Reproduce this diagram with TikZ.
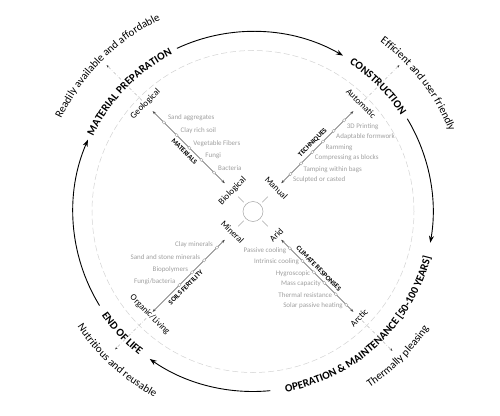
\documentclass[tikz,border=0pt]{standalone}
\usepackage{fontspec}
\setmainfont{Carlito}
\usetikzlibrary{positioning,arrows.meta,decorations.text}

\newcommand{\stagefont}{\bfseries\fontsize{11}{13}\selectfont}
\newcommand{\goalfont}{\fontsize{11}{13}\selectfont}

\begin{document}
\begin{tikzpicture}[
  cyclearc/.style={line width=0.9pt, -{Stealth[length=7pt,width=5pt]}},
  alongpath/.style={decorate, decoration={text along path, text align=center, text={#1}}},
  hub/.style={circle, draw=gray!70, minimum size=20pt, inner sep=0pt, line width=0.5pt},
  spoke/.style={draw=black!70, line width=0.45pt,
    {Stealth[length=3.5pt,width=2.6pt]}-{Stealth[length=3.5pt,width=2.6pt]}},
  pointer/.style={draw=gray!55, line width=0.4pt, dash dot,
    -{Stealth[length=2.6pt,width=2pt,color=black!80]}},
  item/.style={circle, draw=gray!70, fill=white, inner sep=0pt,
    minimum size=3.4pt, line width=0.4pt},
  itemtxt/.style={font=\fontsize{7}{8}\selectfont, text=gray!75, inner sep=0.5pt},
  cattxt/.style={font=\bfseries\fontsize{7}{8}\selectfont, inner sep=0.5pt},
  endtxt/.style={font=\fontsize{9}{10}\selectfont, inner sep=1pt}
]
\useasboundingbox (-253pt,-203.5pt) rectangle (247pt,211.5pt);

% dashed ring
\draw[gray!35, dash pattern=on 6pt off 3pt, line width=0.5pt] (0,0) circle[radius=161pt];

% cycle arcs
\draw[cyclearc] (115:180pt) arc[start angle=115, end angle=60, radius=180pt];
\draw[cyclearc] (31:180pt) arc[start angle=31, end angle=-10, radius=180pt];
\draw[cyclearc] (-84.5:180pt) arc[start angle=-84.5, end angle=-125, radius=180pt];
\draw[cyclearc] (211.5:180pt) arc[start angle=211.5, end angle=156.5, radius=180pt];

% stage names
\path[alongpath={|\stagefont|MATERIAL PREPARATION}]
  (206:176.5pt) arc[start angle=206, end angle=66, radius=176.5pt];
\path[alongpath={|\stagefont|CONSTRUCTION}]
  (115:176.5pt) arc[start angle=115, end angle=-25, radius=176.5pt];
\path[alongpath={|\stagefont|OPERATION {\&} MAINTENANCE [50-100 YEARS]}]
  (-117:183.5pt) arc[start angle=-117, end angle=23, radius=183.5pt];
\path[alongpath={|\stagefont|END OF LIFE}]
  (-207:183.5pt) arc[start angle=-207, end angle=-67, radius=183.5pt];

% goals
\path[alongpath={|\goalfont|Readily available and affordable}]
  (205:213pt) arc[start angle=205, end angle=65, radius=213pt];
\path[alongpath={|\goalfont|Efficient and user friendly}]
  (107.7:212pt) arc[start angle=107.7, end angle=-32.3, radius=212pt];
\path[alongpath={|\goalfont|Thermally pleasing}]
  (-115:211pt) arc[start angle=-115, end angle=25, radius=211pt];
\path[alongpath={|\goalfont|Nutritious and reusable}]
  (-202.4:210pt) arc[start angle=-202.4, end angle=-62.4, radius=210pt];

% hub
\node[hub] (core) at (0,0) {};
\foreach \a in {45,135,225,315}
  \draw[gray!70, line width=0.5pt] (\a:13pt) -- (\a:21pt);

% materials
\coordinate (matOut) at (135:142pt);
\coordinate (matIn) at (135:40pt);
\draw[spoke] (matOut) -- node[cattxt, sloped, below=3pt] (mat) {MATERIALS} (matIn);
\node[endtxt, rotate=45] (geo) at (135:152pt) {Geological};
\node[endtxt, rotate=45] (bio) at (135:29pt) {Biological};
\node[item] (m1) at (135:126pt) {};
\node[item] (m2) at (135:108pt) {};
\node[item] (m3) at (135:90pt) {};
\node[item] (m4) at (135:73pt) {};
\node[item] (m5) at (135:55pt) {};
\node[itemtxt, right=1.5pt of m1, yshift=4.5pt] (m1t) {Sand aggregates};
\node[itemtxt, right=1.5pt of m2, yshift=4.5pt] (m2t) {Clay rich soil};
\node[itemtxt, right=1.5pt of m3, yshift=4.5pt] (m3t) {Vegetable Fibers};
\node[itemtxt, right=1.5pt of m4, yshift=4.5pt] (m4t) {Fungi};
\node[itemtxt, right=1.5pt of m5, yshift=4.5pt] (m5t) {Bacteria};
\coordinate (geoTip) at (135:207pt);
\draw[pointer] (geo) -- (geoTip);

% techniques
\coordinate (tecIn) at (45:40pt);
\coordinate (tecOut) at (45:142pt);
\draw[spoke] (tecIn) -- node[cattxt, sloped, above=3pt] (tec) {TECHNIQUES} (tecOut);
\node[endtxt, rotate=-45] (auto) at (45:153pt) {Automatic};
\node[endtxt, rotate=-45] (man) at (45:33pt) {Manual};
\node[item] (t1) at (45:129pt) {};
\node[item] (t2) at (45:114pt) {};
\node[item] (t3) at (45:99pt) {};
\node[item] (t4) at (45:84pt) {};
\node[item] (t5) at (45:68pt) {};
\node[item] (t6) at (45:53pt) {};
\node[itemtxt, right=0pt of t1, yshift=-6pt] (t1t) {3D Printing};
\node[itemtxt, right=0pt of t2, yshift=-6pt] (t2t) {Adaptable formwork};
\node[itemtxt, right=0pt of t3, yshift=-6pt] (t3t) {Ramming};
\node[itemtxt, right=0pt of t4, yshift=-6pt] (t4t) {Compressing as blocks};
\node[itemtxt, right=0pt of t5, yshift=-6pt] (t5t) {Tamping within bags};
\node[itemtxt, right=0pt of t6, yshift=-6pt] (t6t) {Sculpted or casted};
\coordinate (autoTip) at (45:207pt);
\draw[pointer] (auto) -- (autoTip);

% soils fertility
\coordinate (soiOut) at (225:142pt);
\coordinate (soiIn) at (225:40pt);
\draw[spoke] (soiOut) -- node[cattxt, sloped, below=3pt, pos=0.4] (soi) {SOILS FERTILITY} (soiIn);
\node[endtxt, rotate=-45] (org) at (225:146pt) {Organic/Living};
\node[endtxt, rotate=-45] (min) at (225:29pt) {Mineral};
\node[item] (s1) at (225:51pt) {};
\node[item] (s2) at (225:69pt) {};
\node[item] (s3) at (225:86pt) {};
\node[item] (s4) at (225:104pt) {};
\node[itemtxt, left=1.5pt of s1, yshift=3pt] (s1t) {Clay minerals};
\node[itemtxt, left=1.5pt of s2, yshift=3pt] (s2t) {Sand and stone minerals};
\node[itemtxt, left=1.5pt of s3, yshift=3pt] (s3t) {Biopolymers};
\node[itemtxt, left=1.5pt of s4, yshift=3pt] (s4t) {Fungi/bacteria};
\coordinate (orgTip) at (225:195pt);
\draw[pointer] (org) -- (orgTip);

% climate responses
\coordinate (cliIn) at (315:40pt);
\coordinate (cliOut) at (315:142pt);
\draw[spoke] (cliIn) -- node[cattxt, sloped, above=3pt, pos=0.46] (cli) {CLIMATE RESPONSES} (cliOut);
\node[endtxt, rotate=45] (arid) at (315:33pt) {Arid};
\node[endtxt, rotate=45] (arc) at (315:150pt) {Arctic};
\node[item] (c1) at (315:52pt) {};
\node[item] (c2) at (315:70pt) {};
\node[item] (c3) at (315:86pt) {};
\node[item] (c4) at (315:101pt) {};
\node[item] (c5) at (315:117pt) {};
\node[item] (c6) at (315:132pt) {};
\node[itemtxt, left=1pt of c1, yshift=-2pt] (c1t) {Passive cooling};
\node[itemtxt, left=1pt of c2, yshift=-1pt] (c2t) {Intrinsic cooling};
\node[itemtxt, left=1pt of c3, yshift=-1pt] (c3t) {Hygroscopic};
\node[itemtxt, left=1pt of c4, yshift=-1pt] (c4t) {Mass capacity};
\node[itemtxt, left=1pt of c5, yshift=-1pt] (c5t) {Thermal resistance};
\node[itemtxt, left=1pt of c6, yshift=-1pt] (c6t) {Solar passive heating};
\coordinate (arcTip) at (315:197pt);
\draw[pointer] (arc) -- (arcTip);
\end{tikzpicture}
\end{document}
